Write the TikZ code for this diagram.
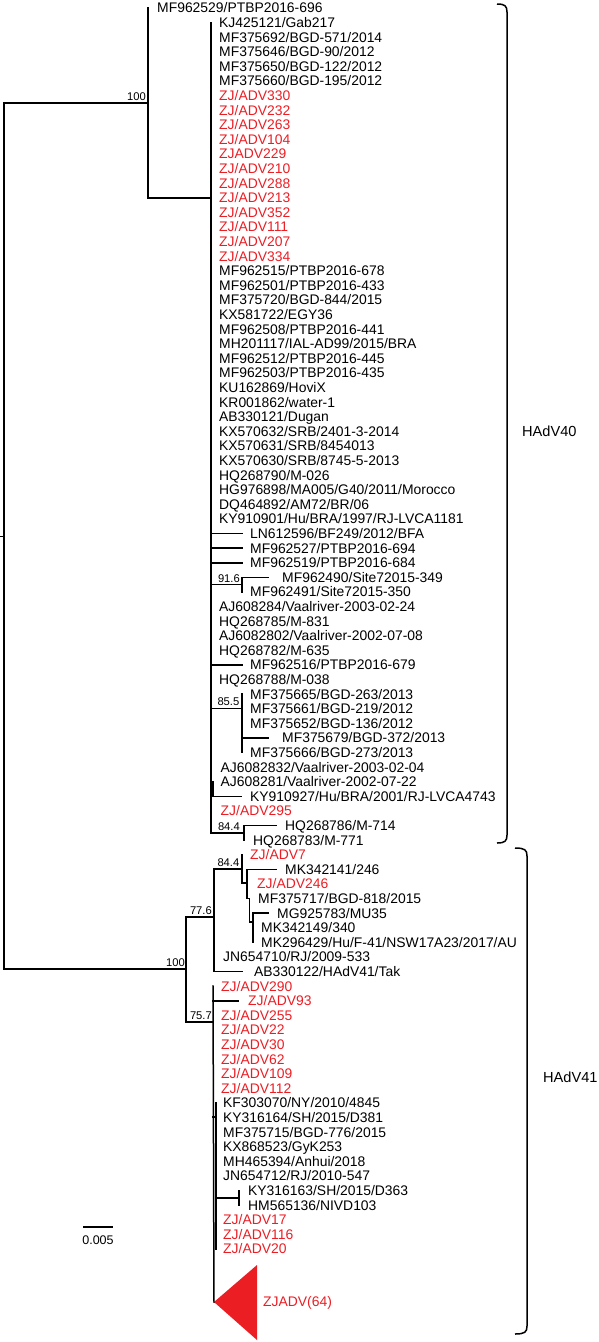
\documentclass[tikz,border=0pt]{standalone}
\usepackage{fontspec}
\setmainfont{Liberation Sans}
\definecolor{tred}{RGB}{235,30,36}
\newcommand\Y[1]{{8+(#1-1)*14.6}}
\tikzset{
  leaf/.style={anchor=west,inner sep=0pt,text height=9.9pt,text depth=0pt,font=\fontsize{13.9}{14}\selectfont},
  zj/.style={leaf,text=tred},
  br/.style={line width=1.5pt,line cap=rect},
  boot/.style={anchor=south east,inner sep=0pt,font=\fontsize{11.2}{12}\selectfont},
  clade/.style={anchor=west,inner sep=0pt,font=\fontsize{14.6}{15}\selectfont},
  brk/.style={line width=1.5pt}
}
\newcommand\lf[3]{\node[leaf] (L#1) at (#2,\Y{#1}) {#3};}
\newcommand\lr[3]{\node[zj] (L#1) at (#2,\Y{#1}) {#3};}
\begin{document}
\begin{tikzpicture}[x=1pt,y=-1pt]
\useasboundingbox (0,0) rectangle (598,1342);
% ---------------- leaves ----------------
\lf{1}{157}{MF962529/PTBP2016-696}
\lf{2}{219}{KJ425121/Gab217}
\lf{3}{219}{MF375692/BGD-571/2014}
\lf{4}{219}{MF375646/BGD-90/2012}
\lf{5}{219}{MF375650/BGD-122/2012}
\lf{6}{219}{MF375660/BGD-195/2012}
\lr{7}{219}{ZJ/ADV330}
\lr{8}{219}{ZJ/ADV232}
\lr{9}{219}{ZJ/ADV263}
\lr{10}{219}{ZJ/ADV104}
\lr{11}{219}{ZJADV229}
\lr{12}{219}{ZJ/ADV210}
\lr{13}{219}{ZJ/ADV288}
\lr{14}{219}{ZJ/ADV213}
\lr{15}{219}{ZJ/ADV352}
\lr{16}{219}{ZJ/ADV111}
\lr{17}{219}{ZJ/ADV207}
\lr{18}{219}{ZJ/ADV334}
\lf{19}{219}{MF962515/PTBP2016-678}
\lf{20}{219}{MF962501/PTBP2016-433}
\lf{21}{219}{MF375720/BGD-844/2015}
\lf{22}{219}{KX581722/EGY36}
\lf{23}{219}{MF962508/PTBP2016-441}
\lf{24}{219}{MH201117/IAL-AD99/2015/BRA}
\lf{25}{219}{MF962512/PTBP2016-445}
\lf{26}{219}{MF962503/PTBP2016-435}
\lf{27}{219}{KU162869/HoviX}
\lf{28}{219}{KR001862/water-1}
\lf{29}{219}{AB330121/Dugan}
\lf{30}{219}{KX570632/SRB/2401-3-2014}
\lf{31}{219}{KX570631/SRB/8454013}
\lf{32}{219}{KX570630/SRB/8745-5-2013}
\lf{33}{219}{HQ268790/M-026}
\lf{34}{219}{HG976898/MA005/G40/2011/Morocco}
\lf{35}{219}{DQ464892/AM72/BR/06}
\lf{36}{219}{KY910901/Hu/BRA/1997/RJ-LVCA1181}
\lf{37}{250}{LN612596/BF249/2012/BFA}
\lf{38}{250}{MF962527/PTBP2016-694}
\lf{39}{250}{MF962519/PTBP2016-684}
\lf{40}{282}{MF962490/Site72015-349}
\lf{41}{250}{MF962491/Site72015-350}
\lf{42}{219}{AJ608284/Vaalriver-2003-02-24}
\lf{43}{219}{HQ268785/M-831}
\lf{44}{219}{AJ6082802/Vaalriver-2002-07-08}
\lf{45}{219}{HQ268782/M-635}
\lf{46}{250}{MF962516/PTBP2016-679}
\lf{47}{219}{HQ268788/M-038}
\lf{48}{250}{MF375665/BGD-263/2013}
\lf{49}{250}{MF375661/BGD-219/2012}
\lf{50}{250}{MF375652/BGD-136/2012}
\lf{51}{282}{MF375679/BGD-372/2013}
\lf{52}{250}{MF375666/BGD-273/2013}
\lf{53}{220.5}{AJ6082832/Vaalriver-2003-02-04}
\lf{54}{220.5}{AJ608281/Vaalriver-2002-07-22}
\lf{55}{250}{KY910927/Hu/BRA/2001/RJ-LVCA4743}
\lr{56}{220.5}{ZJ/ADV295}
\lf{57}{285}{HQ268786/M-714}
\lf{58}{253}{HQ268783/M-771}
\lr{59}{250}{ZJ/ADV7}
\lf{60}{285}{MK342141/246}
\lr{61}{257}{ZJ/ADV246}
\lf{62}{258}{MF375717/BGD-818/2015}
\lf{63}{277}{MG925783/MU35}
\lf{64}{261}{MK342149/340}
\lf{65}{261}{MK296429/Hu/F-41/NSW17A23/2017/AU}
\lf{66}{223}{JN654710/RJ/2009-533}
\lf{67}{254}{AB330122/HAdV41/Tak}
\lr{68}{221}{ZJ/ADV290}
\lr{69}{248}{ZJ/ADV93}
\lr{70}{221}{ZJ/ADV255}
\lr{71}{221}{ZJ/ADV22}
\lr{72}{221}{ZJ/ADV30}
\lr{73}{221}{ZJ/ADV62}
\lr{74}{221}{ZJ/ADV109}
\lr{75}{221}{ZJ/ADV112}
\lf{76}{223}{KF303070/NY/2010/4845}
\lf{77}{223}{KY316164/SH/2015/D381}
\lf{78}{223}{MF375715/BGD-776/2015}
\lf{79}{223}{KX868523/GyK253}
\lf{80}{223}{MH465394/Anhui/2018}
\lf{81}{223}{JN654712/RJ/2010-547}
\lf{82}{248}{KY316163/SH/2015/D363}
\lf{83}{248}{HM565136/NIVD103}
\lr{84}{223}{ZJ/ADV17}
\lr{85}{223}{ZJ/ADV116}
\lr{86}{223}{ZJ/ADV20}
% ---------------- internal nodes ----------------
\coordinate (R0) at (0,536);
\coordinate (R) at (4,536);
\coordinate (Rt) at (4,103);
\coordinate (Rb) at (4,969);
\coordinate (A) at (148,103);
\coordinate (N40) at (211,198);
\coordinate (N91) at (242,584.7);
\coordinate (N85) at (242,708.5);
\coordinate (Ns) at (213,789);
\coordinate (N84a) at (244,833);
\coordinate (B) at (186,969);
\coordinate (N77) at (214,917);
\coordinate (N84b) at (242,869);
\coordinate (NB) at (247,883);
\coordinate (NC) at (249.5,898.6);
\coordinate (ND) at (253,922);
\coordinate (N75) at (213,1022);
\coordinate (NS) at (216,1117);
\coordinate (N82) at (239,1198);
\coordinate (Ntri) at (214,1302);
% tip x positions
\coordinate (X242) at (242,0);
\coordinate (X241) at (241,0);
\coordinate (X268) at (268,0);
\coordinate (X276) at (276,0);
\coordinate (X238) at (238,0);
% ---------------- branches ----------------
\draw[line width=1pt] (R0) -- (R);
\draw[br] (Rt) -- (Rb);
\draw[br] (Rt) -- (A);
\draw[br] (A |- L1) -- (A |- N40) -- (N40);
\draw[br] (N40 |- L2) -- (N40 |- N84a) -- (N84a);
\draw[br] (N40 |- L37) -- (X242 |- L37);
\draw[br] (N40 |- L38) -- (X242 |- L38);
\draw[br] (N40 |- L39) -- (X242 |- L39);
\draw[br] (N40 |- N91) -- (N91);
\draw[br] (N91 |- L40) -- (N91 |- L41);
\draw[br] (N91 |- L40) -- (X268 |- L40);
\draw[br] (N40 |- L46) -- (X242 |- L46);
\draw[br] (N40 |- N85) -- (N85);
\draw[br] (N85 |- L48) -- (N85 |- L52);
\draw[br] (N85 |- L51) -- (X268 |- L51);
\draw[br] (Ns |- L54) -- (Ns |- L55);
\draw[br] (Ns |- L55) -- (X241 |- L55);
\draw[br] (N84a |- L57) -- (N84a |- L58);
\draw[br] (N84a |- L57) -- (X276 |- L57);
% HAdV41
\draw[br] (Rb) -- (B);
\draw[br] (B |- N77) -- (B |- N75);
\draw[br] (B |- N77) -- (N77);
\draw[br] (N77 |- N84b) -- (N77 |- L67);
\draw[br] (N77 |- L67) -- (X242 |- L67);
\draw[br] (N77 |- N84b) -- (N84b);
\draw[br] (N84b |- L59) -- (N84b |- NB) -- (NB);
\draw[br] (NB |- L60) -- (NB |- NC) -- (NC);
\draw[br] (NB |- L60) -- (X276 |- L60);
\draw[br] (NC) -- (NC |- ND) -- (ND);
\draw[br] (ND |- L63) -- (ND |- L65);
\draw[br] (ND |- L63) -- (X268 |- L63);
\draw[br] (B |- N75) -- (N75);
\draw[br] (N75 |- L68) -- (Ntri);
\draw[br] (N75 |- L69) -- (X238 |- L69);
\draw[br] (N75 |- NS) -- (NS);
\draw[br] (NS |- L76) -- (NS |- L86);
\draw[br] (NS |- N82) -- (N82);
\draw[br] (N82 |- L82) -- (N82 |- L83);
% collapsed clade
\fill[tred] (Ntri) -- (257,1265) -- (257,1340) -- cycle;
\node[zj] (Ltri) at (263,1302) {ZJADV(64)};
% ---------------- bootstrap values ----------------
\node[boot] (b1) at (146,101) {100};
\node[boot] (b2) at (240,582.5) {91.6};
\node[boot] (b3) at (239.5,706) {85.5};
\node[boot] (b4) at (240,830.5) {84.4};
\node[boot] (b5) at (239.5,866.5) {84.4};
\node[boot] (b6) at (212,914.5) {77.6};
\node[boot] (b7) at (185,966.5) {100};
\node[boot] (b8) at (212,1019.5) {75.7};
% ---------------- scale bar ----------------
\coordinate (S1) at (83,1227);
\coordinate (S2) at (113,1227);
\draw[line width=1.5pt] (S1) -- (S2);
\node[inner sep=0pt,font=\fontsize{12.5}{13}\selectfont] (sb) at (98,1240) {0.005};
% ---------------- brackets ----------------
\draw[brk] (497,4) .. controls (505,4) and (507,6) .. (507,12) -- (507,835) .. controls (507,841) and (505,843) .. (497,843);
\draw[brk] (515,848) .. controls (525,848) and (527,850) .. (527,856) -- (527,1326) .. controls (527,1332) and (525,1334) .. (515,1334);
\node[clade] (c40) at (522,431) {HAdV40};
\node[clade] (c41) at (543,1077) {HAdV41};
\end{tikzpicture}
\end{document}
